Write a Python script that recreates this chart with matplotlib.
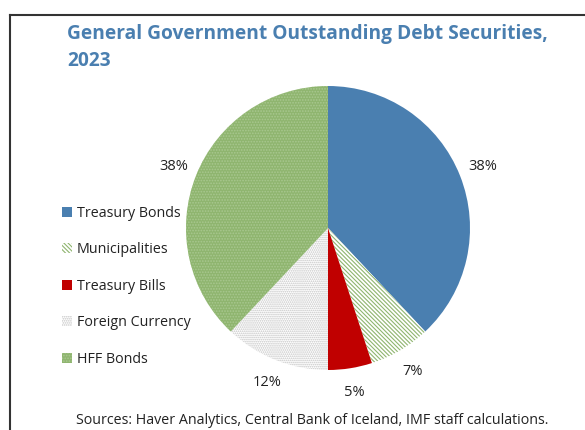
import matplotlib.pyplot as plt
from matplotlib.lines import Line2D

plt.rcParams["font.family"] = ["Open Sans", "DejaVu Sans"]
plt.rcParams["hatch.linewidth"] = 0.8

# data
categories = ["Treasury Bonds", "Municipalities", "Treasury Bills",
              "Foreign Currency", "HFF Bonds"]
shares = [38, 7, 5, 12, 38]
colors = ["#4a7fb0", "#ffffff", "#c00000", "#ffffff", "#8fb56f"]
hatch_colors = ["#4a7fb0", "#8fb56f", "#c00000", "#c4c4c4", "#a9c890"]
hatches = [None, "\\" * 8, None, "." * 8, "." * 6]

W, H = 585, 430
fig = plt.figure(figsize=(W / 100, H / 100), dpi=100)

# pie axes placed in pixel terms: center (328, 228), radius 142
cx, cy, r = 328, 228, 142
ax = fig.add_axes([(cx - r) / W, 1 - (cy + r) / H, 2 * r / W, 2 * r / H])
wedges, _, autotexts = ax.pie(
    shares, colors=colors, startangle=90, counterclock=False,
    autopct="%.0f%%", pctdistance=1.17, radius=1.0,
    wedgeprops=dict(linewidth=0),
    textprops=dict(fontsize=10.5, color="#222222"),
)
for w, hc, h in zip(wedges, hatch_colors, hatches):
    w.set_edgecolor(hc)
    w.set_linewidth(0)
    if h:
        w.set_hatch(h)
ax.set_xlim(-1, 1)
ax.set_ylim(-1, 1)
ax.set_aspect("equal")
ax.axis("off")

leg = fig.legend(
    wedges, categories, loc="upper left",
    bbox_to_anchor=(56 / W, 1 - 200 / H), frameon=False,
    fontsize=10.3, labelspacing=1.5, handlelength=0.7, handleheight=0.7,
    handletextpad=0.35, borderaxespad=0,
)
for t in leg.get_texts():
    t.set_color("#222222")

fig.text(67 / W, 1 - 34 / H, "General Government Outstanding Debt Securities,",
         fontsize=13.8, fontweight="bold", color="#4a7fb0", va="center")
fig.text(67 / W, 1 - 61 / H, "2023",
         fontsize=13.8, fontweight="bold", color="#4a7fb0", va="center")
fig.text(312 / W, 1 - 421 / H,
         "Sources: Haver Analytics, Central Bank of Iceland, IMF staff calculations.",
         fontsize=10.3, color="#222222", ha="center", va="center")

# outer frame
fig.add_artist(Line2D([10 / W, 1], [1 - 15 / H, 1 - 15 / H],
                      transform=fig.transFigure, color="#333333", lw=1.5))
fig.add_artist(Line2D([10 / W, 10 / W], [0, 1 - 15 / H],
                      transform=fig.transFigure, color="#333333", lw=1.5))

fig.savefig("out.png", dpi=100)
